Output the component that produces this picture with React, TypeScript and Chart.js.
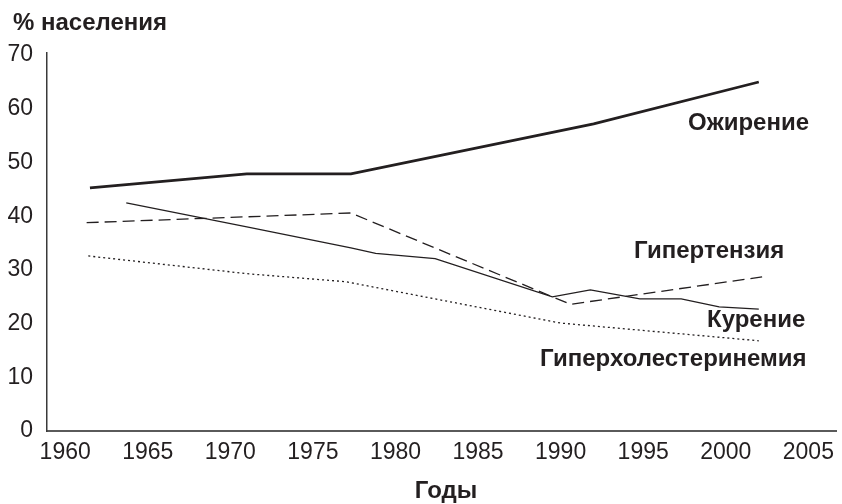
import React, { useEffect, useRef } from "react";
import { Chart, registerables } from "chart.js";

Chart.register(...registerables);

// ---- data ----
const yearTicks = [1960, 1965, 1970, 1975, 1980, 1985, 1990, 1995, 2000, 2005];
const valueTicks = [0, 10, 20, 30, 40, 50, 60, 70];

const obesityYears = [1961.5, 1971, 1977.3, 1992, 2002];
const obesityValues = [45.3, 47.9, 47.9, 57.2, 65.0];

const smokingYears = [1963.7, 1971, 1977.3, 1978.8, 1982.4, 1989.5, 1991.8, 1994.8, 1997.3, 1999.6, 2002];
const smokingValues = [42.5, 38.0, 34.1, 33.1, 32.1, 25.0, 26.3, 24.6, 24.6, 23.1, 22.7];

const hypertensionYears = [1961.3, 1977.3, 1990.6, 2002.2];
const hypertensionValues = [38.8, 40.6, 23.6, 28.7];

const cholesterolYears = [1961.4, 1971, 1977, 1990, 2002];
const cholesterolValues = [32.6, 29.3, 27.8, 20.1, 16.8];

const seriesNames = ["Ожирение", "Курение", "Гипертензия", "Гиперхолестеринемия"];
const yTitle = "% населения";
const xTitle = "Годы";

const INK = "#231f20";
const FONT = '"Liberation Sans", Arial, Helvetica, sans-serif';

const toPoints = (xs: number[], ys: number[]) => xs.map((x, i) => ({ x, y: ys[i] }));

// text layout (pixels on the 842x504 canvas)
const textLayout = [
  { text: seriesNames[0], x: 688, y: 123, align: "left" },
  { text: seriesNames[2], x: 634, y: 251, align: "left" },
  { text: seriesNames[1], x: 707, y: 320, align: "left" },
  { text: seriesNames[3], x: 540, y: 359, align: "left" },
  { text: yTitle, x: 13, y: 23, align: "left" },
  { text: xTitle, x: 446, y: 491, align: "center" },
];

const labelPlugin = {
  id: "labelPlugin",
  afterDraw(chart: any) {
    const ctx = chart.ctx;
    ctx.save();
    ctx.fillStyle = INK;
    ctx.font = `bold 24px ${FONT}`;
    ctx.textBaseline = "middle";
    for (const t of textLayout) {
      ctx.textAlign = t.align;
      ctx.fillText(t.text, t.x, t.y);
    }
    ctx.restore();
  },
};

export default function App() {
  const canvasRef = useRef<HTMLCanvasElement | null>(null);

  useEffect(() => {
    document.body.style.margin = "0";
    const canvas = canvasRef.current!;
    const chart = new Chart(canvas, {
      type: "line",
      data: {
        datasets: [
          {
            label: seriesNames[0],
            data: toPoints(obesityYears, obesityValues),
            borderColor: INK,
            borderWidth: 2.8,
            pointRadius: 0,
            tension: 0,
          },
          {
            label: seriesNames[1],
            data: toPoints(smokingYears, smokingValues),
            borderColor: INK,
            borderWidth: 1.3,
            pointRadius: 0,
            tension: 0,
          },
          {
            label: seriesNames[2],
            data: toPoints(hypertensionYears, hypertensionValues),
            borderColor: INK,
            borderWidth: 1.3,
            borderDash: [12, 6],
            pointRadius: 0,
            tension: 0,
          },
          {
            label: seriesNames[3],
            data: toPoints(cholesterolYears, cholesterolValues),
            borderColor: INK,
            borderWidth: 1.3,
            borderDash: [2, 3],
            pointRadius: 0,
            tension: 0,
          },
        ],
      },
      options: {
        animation: false,
        responsive: false,
        maintainAspectRatio: false,
        layout: { padding: { top: 53, right: 2, left: 0, bottom: 0 } },
        plugins: {
          legend: { display: false },
          tooltip: { enabled: false },
          title: { display: false },
        },
        scales: {
          x: {
            type: "linear",
            min: 1958.9,
            max: 2006.7,
            afterBuildTicks: (scale: any) => {
              scale.ticks = yearTicks.map((v) => ({ value: v }));
            },
            afterFit: (scale: any) => {
              scale.height = 73;
            },
            grid: { display: false, drawTicks: false },
            border: { display: true, color: "#5a5a5a", width: 2 },
            ticks: {
              color: INK,
              font: { family: FONT, size: 23 },
              padding: 8,
              maxRotation: 0,
              autoSkip: false,
              callback: (v: any) => String(v),
            },
          },
          y: {
            type: "linear",
            min: 0,
            max: 70.4,
            afterBuildTicks: (scale: any) => {
              scale.ticks = valueTicks.map((v) => ({ value: v }));
            },
            afterFit: (scale: any) => {
              scale.width = 47;
            },
            grid: { display: false, drawTicks: false },
            border: { display: true, color: "#3a3a3a", width: 1.5 },
            ticks: {
              color: INK,
              font: { family: FONT, size: 23 },
              padding: 14,
              autoSkip: false,
              callback: (v: any) => String(v),
            },
          },
        },
      },
      plugins: [labelPlugin],
    } as any);
    return () => chart.destroy();
  }, []);

  return (
    <div style={{ width: 842, height: 504, position: "relative" }}>
      <canvas ref={canvasRef} width={842} height={504} style={{ display: "block" }} />
    </div>
  );
}
